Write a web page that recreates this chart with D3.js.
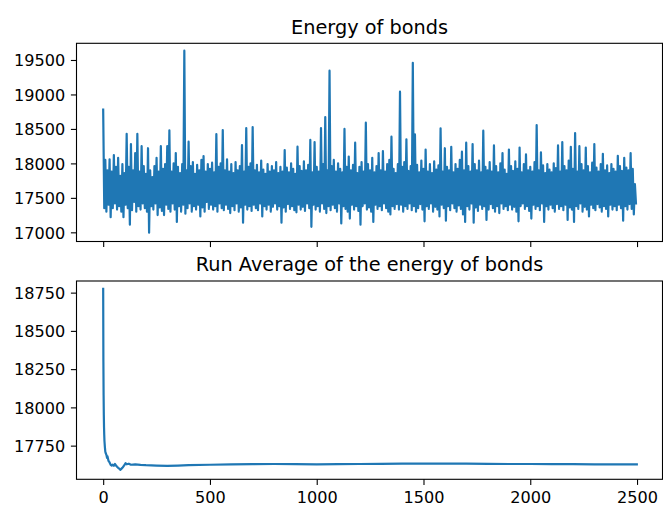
<!DOCTYPE html>
<html><head><meta charset="utf-8">
<script src="https://cdn.jsdelivr.net/npm/d3@7/dist/d3.min.js"></script>
<style>body{margin:0;background:#fff}svg{display:block}text{font-family:"DejaVu Sans",sans-serif}</style>
</head><body><svg id="c" width="663" height="507"></svg>
<script>
// Energy of bonds, one sample per 5 steps (step index = i*5)
const energyStep = 5;
const energy = [
18780,17350,18050,17300,17900,17400,18060,17220,17880,17350,18120,17420,17950,17330,18080,17380,17820,17300,17990,17220,
17860,17400,18430,17350,17950,17110,18280,17320,17900,17440,18150,17300,18430,17380,17880,17330,18250,17420,17960,17350,
17850,17300,18220,16995,17900,17380,17800,17330,17960,17420,18080,17250,17880,17360,18250,17310,17920,17250,17990,17400,
18250,17340,18480,17300,17880,17420,18000,17330,18150,17150,17950,17380,17860,17300,17990,17400,19635,17270,17900,17350,
18315,17420,17960,17300,18020,17380,17850,17330,17980,17400,17900,17230,18050,17360,18107,17300,17880,17440,17990,17340,
17920,17400,18010,17330,17870,17380,18425,17300,17950,17420,18000,17350,18484,17320,17900,17400,18060,17340,17880,17280,
17990,17380,17860,17320,18020,17420,17900,17300,17960,17360,18266,17140,17880,17400,18513,17330,17950,17380,18000,17310,
18527,17400,17900,17350,17980,17320,17870,17420,18040,17230,17910,17380,17850,17330,17990,17400,17880,17300,17960,17370,
17900,17420,18020,17330,17860,17380,17950,17140,17880,17360,18194,17300,17940,17410,17870,17340,18000,17380,17920,17320,
17850,17290,18242,17400,17960,17330,17890,17370,18030,17310,17900,17420,17980,17350,18340,17080,17870,17400,18310,17330,
17950,17380,17880,17300,18513,17420,17990,17340,18673,17280,17900,17380,19345,17320,17960,17400,18050,17350,17880,17300,
18000,17420,17920,17130,17870,17380,18500,17340,17950,17300,18100,17200,17900,17400,17980,17330,18300,17380,17860,17310,
17950,17110,18020,17380,17880,17420,18590,17330,17990,17360,17900,17300,18080,17150,17870,17400,17960,17340,18150,17380,
17900,17320,18180,17420,17880,17350,17990,17300,18050,17260,18387,17380,17920,17340,17860,17410,17990,17330,19040,17400,
17950,17300,18020,17380,18350,17340,17890,17420,17960,17320,19460,17380,18420,17300,17980,17350,17870,17410,18040,17330,
17920,17160,18200,17380,17880,17340,17990,17420,17860,17300,18030,17370,17910,17330,17970,17230,18510,17400,17880,17350,
18220,17170,17950,17380,17900,17320,18240,17420,17870,17350,17990,17300,17920,17390,18050,17340,18170,17260,17900,17150,
18300,17380,17960,17330,17880,17420,18280,17140,17990,17360,17900,17310,18040,17400,17870,17340,18474,17380,17950,17180,
17900,17330,18020,17410,17880,17350,18260,17300,17960,17380,17870,17280,18000,17420,18150,17340,17910,17380,17850,17320,
18200,17400,17960,17330,17890,17370,18030,17300,17920,17160,18230,17380,17870,17420,17990,17340,18130,17380,17900,17310,
17950,17200,17880,17400,18020,17340,18557,17380,17900,17320,18160,17420,17970,17150,17860,17380,17990,17330,17910,17400,
17870,17350,18000,17300,17930,17410,18260,17340,17880,17380,18310,17320,17960,17400,17900,17180,18040,17360,18240,17330,
17920,17150,18440,17380,17880,17340,18250,17420,17990,17300,17900,17370,18230,17330,17960,17230,17870,17400,18010,17350,
18280,17320,17940,17410,17880,17360,17990,17300,18140,17380,17900,17340,17970,17230,17860,17400,17990,17330,17920,17380,
17880,17320,18110,17400,17960,17350,17890,17170,18080,17380,17940,17330,17900,17410,18150,17340,17920,17260,17700,17420
];
// Running average
const runIdx = [0,1,2,3,4,5,6,8,10,12,15,18,20,25,30,35,40,45,50,55,60,65,70,75,80,85,90,95,100,105,110,120,130,150,175,200,250,300,350,400,500,600,700,800,900,1000,1100,1200,1300,1400,1500,1600,1700,1800,1900,2000,2100,2200,2300,2400,2499];
const runAvg = [18775,18300,18080,17950,17870,17820,17780,17740,17710,17700,17690,17670,17680,17650,17640,17625,17620,17625,17618,17630,17620,17612,17605,17600,17592,17598,17605,17615,17625,17635,17628,17632,17625,17628,17624,17622,17620,17618,17620,17622,17625,17627,17629,17630,17629,17628,17629,17630,17631,17632,17633,17632,17632,17631,17630,17630,17629,17629,17628,17628,17628];
const xTicks = [0,500,1000,1500,2000,2500];
const yTicksTop = [17000,17500,18000,18500,19000,19500];
const yTicksBottom = [17750,18000,18250,18500,18750];
const titles = ["Energy of bonds","Run Average of the energy of bonds"];

const svg = d3.select("#c");
svg.append("rect").attr("width",663).attr("height",507).attr("fill","#fff");
const L = 76.5, R = 662.5;
const x = d3.scaleLinear().domain([-124.95, 2623.95]).range([L, 663.5]);
const panels = [
  {top:43.3, bottom:241.5, domain:[16867,19742], ticks:yTicksTop, labels:false, title:titles[0],
   data: energy.map((v,i)=>[i*energyStep, v])},
  {top:281, bottom:479.3, domain:[17530,18826], ticks:yTicksBottom, labels:true, title:titles[1],
   data: runIdx.map((v,i)=>[v, runAvg[i]])}
];
const fs = 16.1, tl = 5.6, tp = 5.6;
panels.forEach(p=>{
  const y = d3.scaleLinear().domain(p.domain).range([p.bottom, p.top]);
  const g = svg.append("g");
  g.append("path").datum(p.data)
    .attr("d", d3.line().x(d=>x(d[0])).y(d=>y(d[1])))
    .attr("fill","none").attr("stroke","#1f77b4").attr("stroke-width",2.2)
    .attr("stroke-linejoin","round").attr("stroke-linecap","square");
  // y axis
  const ya = g.append("g").attr("transform",`translate(${L},0)`)
    .call(d3.axisLeft(y).tickValues(p.ticks).tickFormat(d3.format("d")).tickSize(tl).tickPadding(tp));
  ya.select(".domain").remove();
  ya.selectAll(".tick line").attr("stroke","#000").attr("stroke-width",1.1);
  ya.selectAll(".tick text").attr("font-size",fs).attr("fill","#000").attr("dy","0.36em").style("font-family","DejaVu Sans");
  // x axis
  const xa = g.append("g").attr("transform",`translate(0,${p.bottom})`)
    .call(d3.axisBottom(x).tickValues(xTicks).tickFormat(p.labels?d3.format("d"):()=>"").tickSize(tl).tickPadding(tp));
  xa.select(".domain").remove();
  xa.selectAll(".tick line").attr("stroke","#000").attr("stroke-width",1.1);
  xa.selectAll(".tick text").attr("font-size",fs).attr("fill","#000").attr("dy","0.76em").style("font-family","DejaVu Sans");
  // frame
  g.append("rect").attr("x",L).attr("y",p.top).attr("width",R-L).attr("height",p.bottom-p.top)
    .attr("fill","none").attr("stroke","#000").attr("stroke-width",1.1);
  g.append("text").attr("x",(L+R)/2).attr("y",p.top-9.7).attr("text-anchor","middle")
    .attr("font-size",19.3).attr("fill","#000").text(p.title);
});
</script></body></html>
